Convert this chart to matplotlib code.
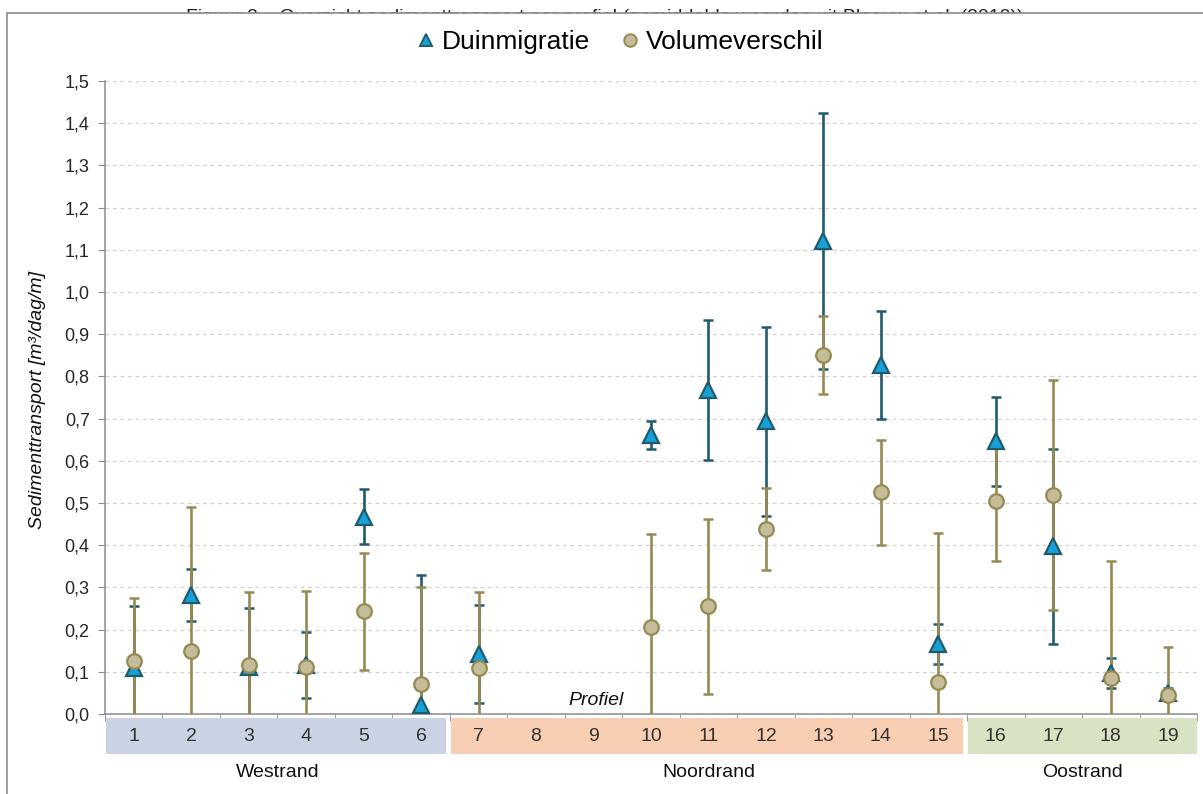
import matplotlib
matplotlib.use("Agg")
import matplotlib.pyplot as plt
import numpy as np
from matplotlib.patches import Rectangle
from matplotlib.lines import Line2D

# data
profielen = list(range(1, 20))
duin = [0.108, 0.282, 0.112, 0.116, 0.468, 0.021, 0.142, np.nan, np.nan, 0.661,
        0.768, 0.694, 1.120, 0.826, 0.166, 0.646, 0.397, 0.097, 0.050]
duin_err = [0.148, 0.061, 0.140, 0.078, 0.066, 0.308, 0.117, np.nan, np.nan, 0.033,
            0.165, 0.224, 0.303, 0.128, 0.048, 0.106, 0.230, 0.036, 0.012]
volume = [0.126, 0.149, 0.115, 0.111, 0.243, 0.071, 0.109, np.nan, np.nan, 0.205,
          0.255, 0.438, 0.851, 0.525, 0.075, 0.505, 0.519, 0.086, 0.044]
volume_err = [0.150, 0.342, 0.174, 0.181, 0.138, 0.231, 0.179, np.nan, np.nan, 0.221,
              0.207, 0.097, 0.092, 0.125, 0.354, 0.143, 0.273, 0.276, 0.115]
groepen = ["Westrand", "Noordrand", "Oostrand"]
groep_range = [(1, 6), (7, 15), (16, 19)]
groep_kleur = ["#C9D3E3", "#F8CFB2", "#D8E3C3"]

plt.rcParams["font.family"] = ["Liberation Sans", "DejaVu Sans"]

fig = plt.figure(figsize=(12.03, 7.94), dpi=100)
fig.patch.set_facecolor("white")

# caption above the chart frame (mostly hidden by the frame)
fig.text(0.503, 1 - 8.5 / 794, "Figuur 2 – Overzicht sedimenttransport per profiel (gemiddelde waarden uit Blaauw et al. (2010))",
         ha="center", va="top", fontsize=14, color="#222222", zorder=-3)
fig.add_artist(Rectangle((7 / 1203, -0.02), 1.05, 1 - 12.7 / 794 + 0.02, transform=fig.transFigure,
                         facecolor="white", edgecolor="#8C8C8C", lw=1.2, zorder=-2))

ax = fig.add_axes([105 / 1203, 1 - 714 / 794, 1092 / 1203, 633 / 794])
ax.set_facecolor("none")

x = np.array(profielen)
blauw_lijn = "#215B6B"
olijf = "#948A54"

ax.errorbar(x, duin, yerr=duin_err, fmt="none", ecolor=blauw_lijn, elinewidth=1.9,
            capsize=3.5, capthick=1.8, zorder=2)
ax.errorbar(x, volume, yerr=volume_err, fmt="none", ecolor=olijf, elinewidth=1.9,
            capsize=3.5, capthick=1.8, zorder=3)
ax.plot(x, duin, ls="none", marker="^", ms=11.5, mfc="#16A2D8", mec=blauw_lijn, mew=1.6,
        zorder=4, clip_on=False)
ax.plot(x, volume, ls="none", marker="o", ms=10.5, mfc="#C4BD97", mec=olijf, mew=1.6,
        zorder=5, clip_on=False)

ax.set_xlim(0.5, 19.5)
ax.set_ylim(0, 1.5)
yt = np.round(np.arange(0, 1.51, 0.1), 1)
ax.set_yticks(yt)
ax.set_yticklabels([f"{v:.1f}".replace(".", ",") for v in yt], fontsize=13, color="#262626")
ax.tick_params(axis="y", length=5, color="#8C8C8C", pad=6)
ax.set_xticks([])
ax.set_xticks(np.arange(0.5, 19.6, 1), minor=True)
ax.tick_params(axis="x", which="minor", length=5, color="#8C8C8C", labelbottom=False)
ax.grid(axis="y", color="#D0D0D0", ls=(0, (3, 3)), lw=0.9)
ax.set_axisbelow(True)
for s in ["top", "right"]:
    ax.spines[s].set_visible(False)
for s in ["left", "bottom"]:
    ax.spines[s].set_color("#8C8C8C")
    ax.spines[s].set_linewidth(1.1)

ax.set_ylabel("Sedimenttransport [m³/dag/m]", fontsize=14, style="italic", color="#111111")
ax.yaxis.set_label_coords(-0.054, 0.496)

# category bands below the axis
trans = ax.get_xaxis_transform()
for naam, (a, b), kleur in zip(groepen, groep_range, groep_kleur):
    x0 = a - 0.5 + (0.02 if a > 1 else 0.017)
    x1 = b + 0.5 - (0.07 if b < 19 else 0.0)
    ax.add_patch(Rectangle((x0, -0.063), x1 - x0, 0.057, transform=trans, facecolor=kleur,
                           edgecolor="none", clip_on=False, zorder=1))
    ax.text((a + b) / 2, -0.093, naam, transform=trans, ha="center", va="center",
            fontsize=14, color="#111111")
for p in profielen:
    ax.text(p, -0.035, str(p), transform=trans, ha="center", va="center",
            fontsize=14, color="#333333")

ax.text(9.05, 0.032, "Profiel", ha="center", va="center", fontsize=14, style="italic",
        color="#111111")

handles = [Line2D([], [], ls="none", marker="^", ms=9, mfc="#16A2D8", mec=blauw_lijn, mew=1.4),
           Line2D([], [], ls="none", marker="o", ms=9, mfc="#C4BD97", mec=olijf, mew=1.4)]
fig.legend(handles, ["Duinmigratie", "Volumeverschil"], loc="center",
           bbox_to_anchor=(618 / 1203, 1 - 42 / 794), ncol=2, frameon=False,
           prop={"size": 19}, handletextpad=0.1, columnspacing=1.0,
           handlelength=1.0)

fig.savefig("out.png", dpi=100)
